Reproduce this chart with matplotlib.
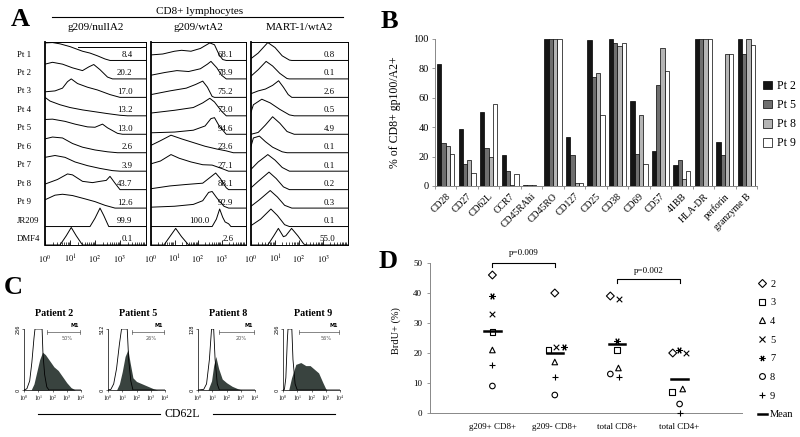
"""
Multi-panel flow cytometry / phenotype figure (panels A-D).
"""
import numpy as np
import matplotlib
matplotlib.use("Agg")
import matplotlib.pyplot as plt
from matplotlib.lines import Line2D

plt.rcParams['font.family'] = ['Liberation Serif', 'DejaVu Serif']
plt.rcParams['mathtext.fontset'] = 'stix'

W, H = 800, 437

# ---------------------------------------------------------------------------
# Panel A data: histogram outlines as (decade, relative height) points
# ---------------------------------------------------------------------------
a_rows = ['Pt 1', 'Pt 2', 'Pt 3', 'Pt 4', 'Pt 5', 'Pt 6', 'Pt 7',
          'Pt 8', 'Pt 9', 'JR209', 'DMF4']

nullA2_pct = ['8.4', '20.2', '17.0', '13.2', '13.0', '2.6', '3.9',
              '43.7', '12.6', '99.9', '0.1']
wtA2_pct = ['68.1', '78.9', '75.2', '73.0', '94.6', '23.6', '27.1',
            '88.1', '92.9', '100.0', '2.6']
mart1_pct = ['0.8', '0.1', '2.6', '0.5', '4.9', '0.1', '0.1',
             '0.2', '0.3', '0.1', '55.0']

nullA2_curves = [
    [(0, 0.95), (0.3, 0.97), (0.6, 0.9), (1.0, 0.75), (1.5, 0.5), (1.8, 0.4), (2.1, 0.25), (2.4, 0.08), (2.6, 0)],
    [(0, 0.8), (0.3, 0.9), (0.7, 0.8), (1.1, 0.6), (1.5, 0.45), (1.75, 0.65), (1.95, 0.78), (2.2, 0.5), (2.5, 0.1), (2.7, 0)],
    [(0, 0.3), (0.4, 0.35), (0.7, 0.5), (0.9, 0.85), (1.05, 1.0), (1.3, 0.75), (1.7, 0.55), (2.1, 0.4), (2.6, 0.15), (3.0, 0)],
    [(0, 1.0), (0.2, 0.8), (0.6, 0.6), (1.0, 0.45), (1.5, 0.32), (2.0, 0.22), (2.5, 0.12), (3.0, 0.03), (3.3, 0)],
    [(0, 0.8), (0.3, 0.82), (0.8, 0.7), (1.2, 0.55), (1.7, 0.4), (2.0, 0.38), (2.3, 0.55), (2.5, 0.35), (2.9, 0.05), (3.1, 0)],
    [(0, 0.75), (0.3, 0.85), (0.7, 0.8), (1.1, 0.5), (1.5, 0.3), (2.0, 0.15), (2.5, 0.05), (2.9, 0)],
    [(0, 0.75), (0.4, 0.85), (0.8, 0.75), (1.2, 0.5), (1.7, 0.3), (2.2, 0.15), (2.7, 0.03), (3.0, 0)],
    [(0, 0.3), (0.5, 0.55), (0.9, 0.85), (1.1, 0.8), (1.5, 0.45), (1.9, 0.38), (2.2, 0.45), (2.45, 0.5), (2.6, 0.72), (2.8, 0.35), (3.0, 0)],
    [(0, 0.45), (0.4, 0.7), (0.7, 0.75), (1.1, 0.68), (1.6, 0.5), (2.0, 0.35), (2.4, 0.15), (2.8, 0)],
    [(0, 0), (1.8, 0), (2.0, 0.45), (2.2, 1.0), (2.35, 0.6), (2.55, 0)],
    [(0, 0), (0.6, 0), (0.85, 0.5), (1.05, 0.95), (1.25, 0.5), (1.5, 0)],
]
wtA2_curves = [
    [(0, 0.3), (0.5, 0.35), (1.0, 0.5), (1.3, 0.55), (1.7, 0.5), (2.1, 0.65), (2.5, 0.95), (2.7, 0.85), (2.9, 0.3), (3.05, 0.05), (3.2, 0)],
    [(0, 0.2), (0.6, 0.35), (1.1, 0.45), (1.6, 0.4), (2.1, 0.55), (2.4, 0.8), (2.55, 0.95), (2.8, 0.6), (3.0, 0.2), (3.2, 0)],
    [(0, 0.15), (0.8, 0.35), (1.5, 0.5), (1.9, 0.7), (2.2, 0.88), (2.4, 0.55), (2.6, 0.05), (2.7, 0)],
    [(0, 0.15), (1.0, 0.3), (1.8, 0.45), (2.2, 0.7), (2.5, 0.95), (2.7, 0.75), (3.0, 0.25), (3.2, 0)],
    [(0, 0.08), (1.0, 0.12), (1.8, 0.22), (2.3, 0.45), (2.55, 0.85), (2.7, 0.9), (2.9, 0.45), (3.2, 0)],
    [(0, 0.4), (0.4, 0.65), (0.85, 0.95), (1.3, 0.75), (1.8, 0.55), (2.3, 0.35), (2.8, 0.2), (3.2, 0.1), (3.5, 0)],
    [(0, 0.4), (0.4, 0.55), (0.85, 0.9), (1.2, 0.7), (1.7, 0.5), (2.2, 0.35), (2.6, 0.33), (3.0, 0.15), (3.3, 0)],
    [(0, 0.05), (0.8, 0.2), (1.5, 0.28), (2.2, 0.35), (2.5, 0.65), (2.75, 0.9), (2.95, 0.6), (3.2, 0.1), (3.3, 0)],
    [(0, 0.05), (1.0, 0.1), (1.8, 0.2), (2.2, 0.4), (2.45, 0.85), (2.6, 0.9), (2.8, 0.55), (3.1, 0.1), (3.3, 0)],
    [(0, 0), (2.6, 0), (2.78, 0.4), (2.92, 0.95), (3.05, 0.5), (3.15, 0.25), (3.3, 0.15), (3.4, 0)],
    [(0, 0), (0.55, 0), (0.8, 0.45), (1.05, 0.9), (1.3, 0.45), (1.6, 0)],
]
mart1_curves = [
    [(0, 0.1), (0.3, 0.4), (0.7, 0.97), (1.0, 0.7), (1.3, 0.25), (1.6, 0.02), (1.7, 0)],
    [(0, 0.15), (0.3, 0.5), (0.63, 0.95), (0.9, 0.7), (1.2, 0.3), (1.5, 0.02), (1.6, 0)],
    [(0, 0.2), (0.3, 0.35), (0.6, 0.45), (0.9, 0.65), (1.15, 0.9), (1.35, 0.55), (1.55, 0.15), (1.7, 0)],
    [(0, 0.2), (0.1, 0.6), (0.45, 0.9), (0.8, 0.7), (1.2, 0.35), (1.6, 0.05), (1.8, 0)],
    [(0, 0), (0.3, 0.1), (0.6, 0.5), (0.9, 0.95), (1.2, 0.6), (1.5, 0.15), (1.8, 0)],
    [(0, 0.35), (0.1, 0.8), (0.35, 0.9), (0.6, 0.6), (0.9, 0.3), (1.3, 0.05), (1.5, 0)],
    [(0, 0.1), (0.3, 0.5), (0.7, 0.9), (1.0, 0.6), (1.3, 0.2), (1.6, 0)],
    [(0, 0.1), (0.3, 0.45), (0.75, 0.95), (1.05, 0.6), (1.35, 0.15), (1.6, 0)],
    [(0, 0.1), (0.35, 0.45), (0.8, 0.95), (1.1, 0.6), (1.4, 0.15), (1.7, 0)],
    [(0, 0.05), (0.4, 0.4), (0.83, 0.95), (1.1, 0.6), (1.4, 0.1), (1.6, 0)],
    [(0, 0), (0.7, 0), (0.95, 0.5), (1.14, 0.9), (1.35, 0.45), (1.45, 0.5), (1.69, 0.9), (1.95, 0.5), (2.2, 0.05), (2.3, 0)],
]

# ---------------------------------------------------------------------------
# Panel B data
# ---------------------------------------------------------------------------
b_markers = ['CD28', 'CD27', 'CD62L', 'CCR7', 'CD45RAhi', 'CD45RO', 'CD127',
             'CD25', 'CD38', 'CD69', 'CD57', '41BB', 'HLA-DR', 'perforin',
             'granzyme B']
b_pt2 = [83, 39, 50, 21, 1, 100, 33, 99, 100, 58, 24, 14, 100, 30, 100]
b_pt5 = [29, 15, 26, 10, 1, 100, 21, 74, 97, 22, 69, 18, 100, 21, 90]
b_pt8 = [27, 18, 20, 1, 1, 100, 2, 77, 95, 48, 94, 5, 100, 90, 100]
b_pt9 = [22, 9, 56, 8, 0, 100, 2, 48, 97, 15, 78, 10, 100, 90, 96]
b_series = ['Pt 2', 'Pt 5', 'Pt 8', 'Pt 9']

# ---------------------------------------------------------------------------
# Panel C data: control (open) and CD62L (filled) histograms
# ---------------------------------------------------------------------------
c_patients = ['Patient 2', 'Patient 5', 'Patient 8', 'Patient 9']
c_ymax = ['256', '512', '128', '256']
c_pct = ['50%', '26%', '20%', '56%']
c_gate_from = [1.6, 1.7, 1.5, 1.1]
c_control = [
    [(0, 0), (0.2, 0.02), (0.4, 0.15), (0.55, 0.45), (0.7, 0.85), (0.77, 1.0), (1.27, 1.0), (1.33, 0.6), (1.45, 0.25), (1.6, 0.05), (1.75, 0)],
    [(0, 0), (0.2, 0.01), (0.4, 0.1), (0.6, 0.35), (0.8, 0.75), (0.95, 1.0), (1.35, 1.0), (1.45, 0.5), (1.6, 0.15), (1.75, 0)],
    [(0, 0), (0.4, 0.01), (0.6, 0.1), (0.8, 0.5), (0.95, 1.0), (1.1, 1.0), (1.2, 0.5), (1.35, 0.1), (1.5, 0)],
    [(0, 0), (0.1, 0.01), (0.2, 0.2), (0.3, 0.8), (0.35, 1.0), (0.62, 1.0), (0.7, 0.5), (0.85, 0.1), (1.0, 0)],
]
c_cd62l = [
    [(0.5, 0), (0.7, 0.1), (0.9, 0.3), (1.1, 0.5), (1.3, 0.62), (1.5, 0.58), (1.8, 0.48), (2.1, 0.38), (2.4, 0.32), (2.7, 0.22), (3.0, 0.12), (3.3, 0.04), (3.6, 0)],
    [(0.6, 0), (0.8, 0.1), (1.0, 0.3), (1.2, 0.55), (1.4, 0.66), (1.55, 0.45), (1.75, 0.2), (2.0, 0.14), (2.4, 0.1), (2.8, 0.06), (3.2, 0.02), (3.5, 0)],
    [(0.7, 0), (0.95, 0.15), (1.1, 0.4), (1.25, 0.55), (1.45, 0.35), (1.7, 0.18), (2.0, 0.12), (2.4, 0.06), (2.8, 0.02), (3.1, 0)],
    [(0.4, 0), (0.6, 0.2), (0.9, 0.42), (1.25, 0.45), (1.6, 0.4), (1.9, 0.4), (2.2, 0.34), (2.5, 0.28), (2.8, 0.12), (3.0, 0.02), (3.1, 0)],
]

# ---------------------------------------------------------------------------
# Panel D data: BrdU+ (%) per patient in each population
# ---------------------------------------------------------------------------
d_groups = ['g209+ CD8+', 'g209- CD8+', 'total CD8+', 'total CD4+']
d_patients = ['2', '3', '4', '5', '7', '8', '9']
d_values = {
    '2': [46, 40, 39, 20],
    '3': [27, 21, 21, 7],
    '4': [21, 17, 15, 8],
    '5': [33, 22, 38, 20],
    '7': [39, 22, 24, 21],
    '8': [9, 6, 13, 3],
    '9': [16, 12, 12, 0],
}
d_means = [27.3, 20.0, 23.1, 11.4]
d_pvals = ['p=0.009', 'p=0.002']

# layout / style (not data)
d_markers = {'2': 'D', '3': 's', '4': '^', '5': 'x', '7': (6, 2, 90), '8': 'o', '9': '+'}
d_jitter = {
    '2': [0, 0, -0.11, -0.11],
    '3': [0, -0.1, 0, -0.12],
    '4': [0, 0, 0.02, 0.05],
    '5': [0, 0.02, 0.03, 0.1],
    '7': [0, 0.14, 0, -0.01],
    '8': [0, 0, -0.11, 0],
    '9': [0, 0, 0.03, 0],
}


def px_axes(fig, x0, y0, x1, y1):
    """Axes from a pixel box (top-left origin)."""
    return fig.add_axes([x0 / W, 1 - y1 / H, (x1 - x0) / W, (y1 - y0) / H])


def xy(pts):
    d = np.array([p[0] for p in pts], dtype=float)
    h = np.array([p[1] for p in pts], dtype=float)
    return d, h


fig = plt.figure(figsize=(W / 100, H / 100), dpi=100, facecolor='white')

# overlay in pixel coordinates for labels and decorations
ov = fig.add_axes([0, 0, 1, 1], zorder=10)
ov.set_xlim(0, W)
ov.set_ylim(H, 0)
ov.axis('off')
ov.patch.set_alpha(0)

# ── Panel A ─────────────────────────────────────────────────────────────────
ov.text(20, 20, 'A', fontsize=19, fontweight='bold', ha='center', va='center')
ov.text(200, 11, 'CD8+ lymphocytes', fontsize=8, ha='center', va='center')
ov.plot([52, 343], [17, 17], color='black', lw=0.8)

box_top, box_bot = 42, 245
a_cols = [
    ('g209/nullA2', nullA2_curves, nullA2_pct, (45, 146)),
    ('g209/wtA2', wtA2_curves, wtA2_pct, (151, 246)),
    ('MART-1/wtA2', mart1_curves, mart1_pct, (251, 348)),
]
n_rows = len(a_rows)
row_h = (box_bot - box_top) / n_rows
for i, name in enumerate(a_rows):
    ov.text(17, box_top + (i + 0.68) * row_h, name, fontsize=6.3,
            ha='left', va='center')

for ci, (title, curves, pcts, (x0, x1)) in enumerate(a_cols):
    ov.text((x0 + x1) / 2, 28, title, fontsize=8, ha='center', va='center')
    ax = px_axes(fig, x0, box_top, x1, box_bot)
    for i, pts in enumerate(curves):
        base = n_rows - 1 - i
        d, h = xy(pts)
        d = np.append(d, 4.1)
        h = np.append(h, 0)
        ax.plot(d, base + h, color='black', lw=0.7)
        lx = 2.5 if (ci == 1 and a_rows[i] == 'JR209') else 3.5
        ax.text(lx, base + 0.3, pcts[i], fontsize=6.3, ha='right', va='center')
    if ci == 0:
        ax.plot([1.3, 4.1], [10.73, 10.73], color='black', lw=0.7)
    ax.set_xlim(0, 4.04)
    ax.set_ylim(0, n_rows)
    ax.set_yticks([])
    ax.set_xticks([0, 1, 2, 3])
    ax.set_xticklabels([r'$10^{0}$', r'$10^{1}$', r'$10^{2}$', r'$10^{3}$'],
                       fontsize=6)
    minor = [n + np.log10(k) for n in range(4) for k in range(2, 10)]
    ax.set_xticks(minor, minor=True)
    ax.tick_params(axis='x', which='major', direction='in', length=3.5,
                   width=0.6, pad=6)
    ax.tick_params(axis='x', which='minor', direction='in', length=2,
                   width=0.5)
    for sp in ax.spines.values():
        sp.set_linewidth(0.7)
    ax.spines['left'].set_linewidth(1.3)

# ── Panel B ─────────────────────────────────────────────────────────────────
ov.text(389, 21, 'B', fontsize=19, fontweight='bold', ha='center', va='center')
axb = px_axes(fig, 435, 39, 757, 186)
xb = np.arange(len(b_markers))
b_colors = ['#151515', '#6f6f6f', '#b5b5b5', 'white']
for k, (vals, col) in enumerate(zip([b_pt2, b_pt5, b_pt8, b_pt9], b_colors)):
    axb.bar(xb + (k - 1.5) * 0.2, vals, width=0.2, color=col,
            edgecolor='black', linewidth=0.5, label=b_series[k])
axb.set_xlim(-0.5, len(b_markers) - 0.5)
axb.set_ylim(0, 100)
axb.set_yticks(range(0, 101, 20))
axb.tick_params(axis='y', labelsize=7.5, length=2.5, width=0.6,
                color='#888888', pad=2)
axb.set_xticks(xb)
axb.set_xticklabels(b_markers, rotation=45, ha='right', rotation_mode='anchor',
                    fontsize=7)
axb.tick_params(axis='x', which='major', length=0, pad=4)
axb.set_xticks(np.arange(-0.5, len(b_markers)), minor=True)
axb.tick_params(axis='x', which='minor', length=2.5, width=0.6, color='#888888')
for s in ['top', 'right']:
    axb.spines[s].set_visible(False)
for s in ['left', 'bottom']:
    axb.spines[s].set_color('#888888')
    axb.spines[s].set_linewidth(0.7)
axb.set_ylabel('% of CD8+ gp100/A2+', fontsize=8.5)
axb.yaxis.set_label_coords((401 - 435) / 322, 0.5)
axb.legend(loc='upper left', bbox_to_anchor=(1.02, 0.72), frameon=False,
           fontsize=8.5, handlelength=0.75, handleheight=0.75,
           handletextpad=0.4, labelspacing=0.6, borderpad=0,
           borderaxespad=0)

# ── Panel C ─────────────────────────────────────────────────────────────────
ov.text(13, 287, 'C', fontsize=19, fontweight='bold', ha='center', va='center')
c_rects = [(24, 81), (108, 165), (198, 255), (283, 340)]
c_fill = '#39433f'
for j, (x0, x1) in enumerate(c_rects):
    ov.text((x0 + x1) / 2 + 2, 313, c_patients[j], fontsize=7.2,
            fontweight='bold', ha='center', va='center')
    ax = px_axes(fig, x0, 329, x1, 390)
    dc, hc = xy(c_control[j])
    dc = np.append(dc, 4)
    hc = np.append(hc, 0)
    df, hf = xy(c_cd62l[j])
    ax.fill_between(dc, hc, color='white', zorder=1)
    ax.fill_between(df, hf, color=c_fill, lw=0, zorder=2)
    ax.plot(dc, hc, color='black', lw=0.6, zorder=3)
    g0 = c_gate_from[j]
    ax.plot([g0, 3.95], [0.95, 0.95], color='#555555', lw=0.5, clip_on=False)
    ax.plot([g0, g0], [0.92, 0.98], color='#555555', lw=0.5, clip_on=False)
    ax.plot([3.95, 3.95], [0.92, 0.98], color='#555555', lw=0.5, clip_on=False)
    ax.text(3.55, 1.02, 'M1', fontsize=3.6, fontweight='bold',
            family='DejaVu Sans', ha='center', va='bottom')
    ax.text(3.0, 0.84, c_pct[j], fontsize=3.6, color='#555555',
            family='DejaVu Sans', ha='center', va='center')
    ax.set_xlim(0, 4)
    ax.set_ylim(0, 1.0)
    ax.set_xticks(range(5))
    ax.set_xticklabels([r'$10^{%d}$' % k for k in range(5)], fontsize=4)
    ax.set_yticks([0, 1])
    ax.set_yticklabels(['0', c_ymax[j]], fontsize=3.6, rotation=90,
                       va='center', family='DejaVu Sans')
    ax.tick_params(length=1.5, width=0.4, pad=1)
    for s in ['top', 'right']:
        ax.spines[s].set_visible(False)
    for s in ['left', 'bottom']:
        ax.spines[s].set_linewidth(0.5)

ov.text(182, 414, 'CD62L', fontsize=8.5, ha='center', va='center')
ov.plot([38, 160], [414, 414], color='black', lw=0.8)
ov.plot([213, 335], [414, 414], color='black', lw=0.8)

# ── Panel D ─────────────────────────────────────────────────────────────────
ov.text(388, 262, 'D', fontsize=19, fontweight='bold', ha='center', va='center')
axd = px_axes(fig, 430, 263, 742, 413)
xd = np.arange(1, len(d_groups) + 1)
handles = []
for p in d_patients:
    m = d_markers[p]
    filled = m in ('x', '+') or isinstance(m, tuple)
    axd.scatter(xd + np.array(d_jitter[p]), d_values[p], marker=m, s=16,
                facecolors='black' if filled else 'none', edgecolors='black',
                linewidths=0.8, clip_on=False, zorder=3)
    handles.append(Line2D([], [], marker=m, ls='none', color='black',
                          markerfacecolor='none' if not filled else 'black',
                          markersize=4.2, markeredgewidth=0.8, label=p))
for x, m in zip(xd, d_means):
    axd.plot([x - 0.13, x + 0.13], [m, m], color='black', lw=1.8, zorder=4)
handles.append(Line2D([], [], color='black', lw=1.8, label='Mean'))

for (a, b, y, ty), txt in zip([(1, 2, 50, 53.3), (3, 4, 44.6, 47.2)], d_pvals):
    axd.plot([a, a, b, b], [y - 1.3, y, y, y - 1.3], color='black', lw=0.8,
             clip_on=False)
    axd.text((a + b) / 2, ty, txt, fontsize=6.5, ha='center', va='center')

axd.set_xlim(0, 5)
axd.set_ylim(0, 50)
axd.set_yticks(range(0, 51, 10))
axd.set_xticks(xd)
axd.set_xticklabels(d_groups, fontsize=6.5)
axd.tick_params(axis='y', labelsize=6.5, length=2.5, width=0.6,
                color='#888888', pad=3)
axd.tick_params(axis='x', length=0, pad=7)
for s in ['top', 'right']:
    axd.spines[s].set_visible(False)
for s in ['left', 'bottom']:
    axd.spines[s].set_color('#888888')
    axd.spines[s].set_linewidth(0.7)
axd.set_ylabel('BrdU+ (%)', fontsize=7.5)
axd.yaxis.set_label_coords((401 - 430) / 312, 0.55)
axd.legend(handles=handles, loc='upper left', bbox_to_anchor=(1.05, 0.89),
           frameon=False, fontsize=7.5, handlelength=0.9, handletextpad=0.3,
           labelspacing=0.9, borderpad=0, borderaxespad=0)

fig.savefig('out.png', dpi=100, facecolor='white')
